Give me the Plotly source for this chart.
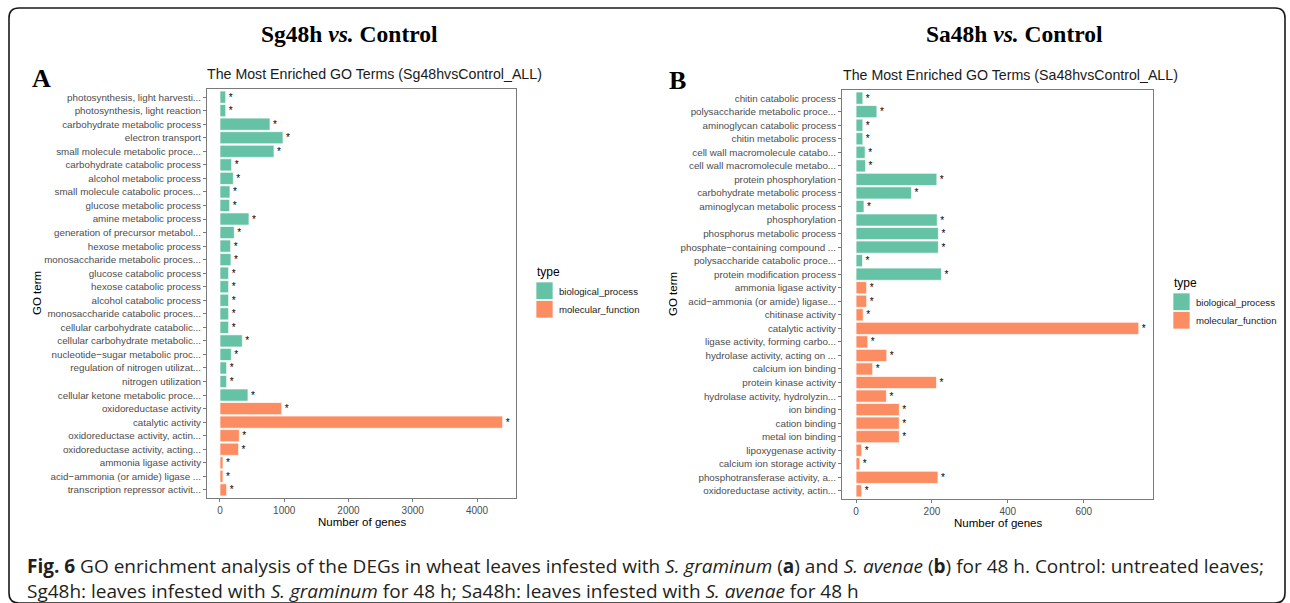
import plotly.graph_objects as go

W, H = 1290, 603

# ---------------- data ----------------
left_terms = [
    "photosynthesis, light harvesti...",
    "photosynthesis, light reaction",
    "carbohydrate metabolic process",
    "electron transport",
    "small molecule metabolic proce...",
    "carbohydrate catabolic process",
    "alcohol metabolic process",
    "small molecule catabolic proces...",
    "glucose metabolic process",
    "amine metabolic process",
    "generation of precursor metabol...",
    "hexose metabolic process",
    "monosaccharide metabolic proces...",
    "glucose catabolic process",
    "hexose catabolic process",
    "alcohol catabolic process",
    "monosaccharide catabolic proces...",
    "cellular carbohydrate catabolic...",
    "cellular carbohydrate metabolic...",
    "nucleotide\u2212sugar metabolic proc...",
    "regulation of nitrogen utilizat...",
    "nitrogen utilization",
    "cellular ketone metabolic proce...",
    "oxidoreductase activity",
    "catalytic activity",
    "oxidoreductase activity, actin...",
    "oxidoreductase activity, acting...",
    "ammonia ligase activity",
    "acid\u2212ammonia (or amide) ligase ...",
    "transcription repressor activit...",
]
left_counts = [90, 90, 779, 981, 841, 182, 208, 156, 151, 452, 223, 166, 171,
               135, 135, 135, 135, 135, 348, 177, 104, 104, 436,
               961, 4400, 301, 290, 47, 47, 104]
left_types = ["biological_process"] * 23 + ["molecular_function"] * 7

right_terms = [
    "chitin catabolic process",
    "polysaccharide metabolic proce...",
    "aminoglycan catabolic process",
    "chitin metabolic process",
    "cell wall macromolecule catabo...",
    "cell wall macromolecule metabo...",
    "protein phosphorylation",
    "carbohydrate metabolic process",
    "aminoglycan metabolic process",
    "phosphorylation",
    "phosphorus metabolic process",
    "phosphate\u2212containing compound ...",
    "polysaccharide catabolic proce...",
    "protein modification process",
    "ammonia ligase activity",
    "acid\u2212ammonia (or amide) ligase...",
    "chitinase activity",
    "catalytic activity",
    "ligase activity, forming carbo...",
    "hydrolase activity, acting on ...",
    "calcium ion binding",
    "protein kinase activity",
    "hydrolase activity, hydrolyzin...",
    "ion binding",
    "cation binding",
    "metal ion binding",
    "lipoxygenase activity",
    "calcium ion storage activity",
    "phosphotransferase activity, a...",
    "oxidoreductase activity, actin...",
]
right_counts = [18, 55, 18, 18, 24, 25, 213, 146, 21, 214, 217, 217, 17, 225,
                28, 28, 19, 745, 31, 81, 44, 212, 80, 114, 114, 114, 15, 10, 216, 15]
right_types = ["biological_process"] * 14 + ["molecular_function"] * 16

type_order = ["biological_process", "molecular_function"]
type_colors = {"biological_process": "#66C2A5", "molecular_function": "#FC8D62"}

left_xticks = [0, 1000, 2000, 3000, 4000]
right_xticks = [0, 200, 400, 600]

# ---------------- helpers ----------------
def px(x):
    return x / W


def py(y):
    return 1 - y / H


TICK_GREY = "#4D4D4D"
LINE_GREY = "#7A7A7A"
SANS = "Liberation Sans, Arial, sans-serif"
SERIF = "Liberation Serif, Times New Roman, serif"

fig = go.Figure()

panels = [
    (left_terms, left_counts, left_types, "x", "y"),
    (right_terms, right_counts, right_types, "x2", "y2"),
]
for terms, counts, types, xa, ya in panels:
    for t in type_order:
        ys = [term for term, tt in zip(terms, types) if tt == t]
        xs = [c for c, tt in zip(counts, types) if tt == t]
        fig.add_trace(go.Bar(
            x=xs, y=ys, orientation="h", xaxis=xa, yaxis=ya,
            width=0.9,
            marker=dict(color=type_colors[t], line=dict(color="white", width=0.7)),
            text=["*"] * len(xs), textposition="outside",
            textfont=dict(size=10, color="black", family=SANS),
            constraintext="none", cliponaxis=False,
            showlegend=False, name=t,
        ))

axis_common = dict(
    showline=True, mirror=True, linecolor=LINE_GREY, linewidth=1,
    ticks="outside", ticklen=3, tickwidth=1, tickcolor=LINE_GREY,
    showgrid=False, zeroline=False,
)

n_left = len(left_terms)
n_right = len(right_terms)

fig.update_layout(
    width=W, height=H, autosize=False,
    margin=dict(l=0, r=0, t=0, b=0),
    paper_bgcolor="white", plot_bgcolor="white",
    template="none",
    barmode="overlay",
    font=dict(family=SANS, color="black"),
    xaxis=dict(domain=[px(207), px(516)], anchor="y", range=[-202, 4607],
               tickvals=left_xticks, tickfont=dict(size=10, color=TICK_GREY),
               **axis_common),
    yaxis=dict(domain=[py(498), py(89)], anchor="x", type="category",
               categoryorder="array", categoryarray=left_terms,
               range=[n_left - 1 + 0.6, -0.6],
               tickfont=dict(size=9.8, color=TICK_GREY), **axis_common),
    xaxis2=dict(domain=[px(842), px(1153)], anchor="y2", range=[-37, 782.5],
                tickvals=right_xticks, tickfont=dict(size=10, color=TICK_GREY),
                **axis_common),
    yaxis2=dict(domain=[py(499), py(90)], anchor="x2", type="category",
                categoryorder="array", categoryarray=right_terms,
                range=[n_right - 1 + 0.6, -0.6],
                tickfont=dict(size=9.8, color=TICK_GREY), **axis_common),
)

annotations = []


def ann(text, x, y, size, family=SANS, xanchor="center", yanchor="middle",
        color="black", textangle=0, align="center"):
    annotations.append(dict(
        text=text, x=px(x), y=py(y), xref="paper", yref="paper",
        xanchor=xanchor, yanchor=yanchor, showarrow=False, align=align,
        font=dict(size=size, family=family, color=color), textangle=textangle,
    ))


# headings
ann("<b>Sg48h <i>vs.</i> Control</b>", 349, 34, 23.5, SERIF)
ann("<b>Sa48h <i>vs.</i> Control</b>", 1015, 34, 23.5, SERIF)
ann("<b>A</b>", 41, 79, 26, SERIF)
ann("<b>B</b>", 677, 80, 26, SERIF)
# plot titles
ann("The Most Enriched GO Terms (Sg48hvsControl_ALL)", 205, 74, 14.2, xanchor="left", color="#1A1A1A")
ann("The Most Enriched GO Terms (Sa48hvsControl_ALL)", 841, 75, 14.2, xanchor="left", color="#1A1A1A")
# axis titles
ann("Number of genes", (207 + 516) / 2, 522, 11.5)
ann("Number of genes", (842 + 1153) / 2, 523, 11.5)
ann("GO term", 37, 293, 11.5, textangle=-90)
ann("GO term", 673, 294, 11.5, textangle=-90)

# legends (drawn manually)
shapes = []
for (lx, ly) in [(535, 272), (1172, 283)]:
    ann("type", lx, ly, 12, xanchor="left")
    for i, t in enumerate(type_order):
        y0 = ly + 10 + i * 18.5
        shapes.append(dict(type="rect", xref="paper", yref="paper",
                           x0=px(lx + 1), x1=px(lx + 18), y0=py(y0), y1=py(y0 + 17.5),
                           fillcolor=type_colors[t], line=dict(color="white", width=0.7)))
        ann(t, lx + 22, y0 + 9, 9.6, xanchor="left", color="#1A1A1A")

# caption (one two-line text block)
cap_col = "#231F20"
ann("<b>Fig. 6</b> GO enrichment analysis of the DEGs in wheat leaves infested with "
    "<i>S. graminum</i> (<b>a</b>) and <i>S. avenae</i> (<b>b</b>) for 48 h. "
    "Control: untreated leaves;<br>"
    "Sg48h: leaves infested with <i>S. graminum</i> for 48 h; Sa48h: leaves infested "
    "with <i>S. avenae</i> for 48 h", 25, 578, 19, "Open Sans, sans-serif",
    xanchor="left", color=cap_col, align="left")

# rounded frame
x0, y0, x1, y1, r = 9, 8, 1285, 603, 10
path = (
    f"M {px(x0 + r)},{py(y0)} L {px(x1 - r)},{py(y0)} "
    f"Q {px(x1)},{py(y0)} {px(x1)},{py(y0 + r)} "
    f"L {px(x1)},{py(y1 - r)} Q {px(x1)},{py(y1)} {px(x1 - r)},{py(y1)} "
    f"L {px(x0 + r)},{py(y1)} Q {px(x0)},{py(y1)} {px(x0)},{py(y1 - r)} "
    f"L {px(x0)},{py(y0 + r)} Q {px(x0)},{py(y0)} {px(x0 + r)},{py(y0)} Z"
)
shapes.append(dict(type="path", xref="paper", yref="paper", path=path,
                   line=dict(color="#1A1A1A", width=1.6)))

fig.update_layout(annotations=annotations, shapes=shapes)
fig.write_html("out.html")
